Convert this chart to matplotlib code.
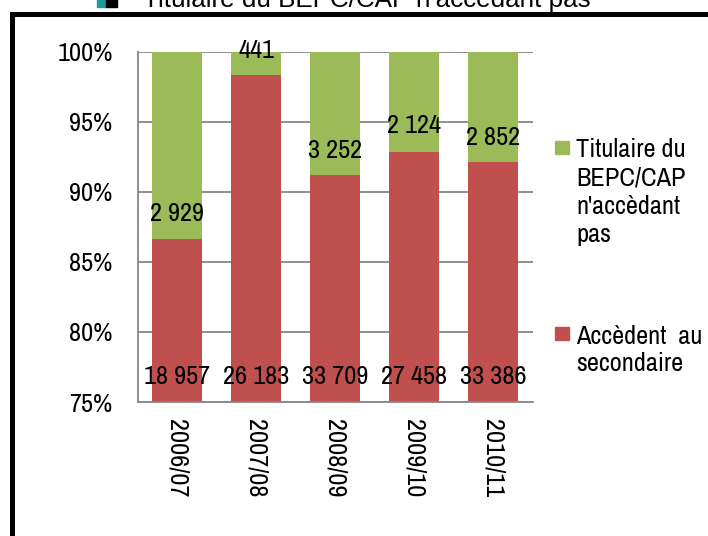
import matplotlib
matplotlib.use("Agg")
import matplotlib.pyplot as plt
from matplotlib.patches import Rectangle

NARROW = ['Liberation Sans Narrow', 'Archivo Narrow', 'Roboto Condensed', 'Liberation Sans', 'DejaVu Sans']
plt.rcParams['font.family'] = NARROW

# ---- data ----
years = ['2006/07', '2007/08', '2008/09', '2009/10', '2010/11']
accedent = [18957, 26183, 33709, 27458, 33386]          # Accèdent au secondaire
non_accedant = [2929, 441, 3252, 2124, 2852]            # Titulaire du BEPC/CAP n'accèdant pas
yticks = [75, 80, 85, 90, 95, 100]

# label positions (layout, in % units)
red_label_y = [76.8, 76.8, 76.8, 76.8, 76.8]
green_label_y = [88.45, 100.05, 92.94, 94.7, 93.9]

GREEN = '#9BBB59'
RED = '#C0504D'
GRID = '#878787'
FS = 19

W, H = 708, 536
fig = plt.figure(figsize=(W / 100, H / 100), dpi=100)

def fx(x):
    return x / W

def fy(y):
    return 1 - y / H

ax = fig.add_axes([fx(137.7), fy(402), fx(532.7) - fx(137.7), fy(51.7) - fy(402)])

tot = [a + b for a, b in zip(accedent, non_accedant)]
red_pct = [a / t * 100 for a, t in zip(accedent, tot)]
green_pct = [b / t * 100 for b, t in zip(non_accedant, tot)]
xs = list(range(len(years)))

ax.bar(xs, red_pct, width=0.64, color=RED, zorder=2)
ax.bar(xs, green_pct, bottom=red_pct, width=0.64, color=GREEN, zorder=2)

ax.set_xlim(-0.5, len(years) - 0.5)
ax.set_ylim(75, 100)
ax.set_yticks(yticks)
ax.set_yticklabels([f'{v}%' for v in yticks], fontsize=FS)
ax.yaxis.grid(True, color=GRID, lw=1.3)
ax.set_axisbelow(True)
ax.tick_params(axis='y', length=0, pad=18)
ax.set_xticks(xs)
ax.set_xticklabels(years, rotation=270, fontsize=FS, va='top', ha='center')
ax.tick_params(axis='x', length=0, pad=12)
for s in ['top', 'right']:
    ax.spines[s].set_visible(False)
for s in ['left', 'bottom']:
    ax.spines[s].set_color(GRID)
    ax.spines[s].set_linewidth(1.3)

def fmt(n):
    return f'{n:,}'.replace(',', ' ')

for x, v, y in zip(xs, accedent, red_label_y):
    ax.text(x, y, fmt(v), ha='center', va='center', fontsize=FS, zorder=3, clip_on=False)
for x, v, y in zip(xs, non_accedant, green_label_y):
    ax.text(x, y, fmt(v), ha='center', va='center', fontsize=FS, zorder=3, clip_on=False)

# legend (manual)
fig.add_artist(Rectangle((fx(555), fy(154)), fx(569) - fx(555), fy(141) - fy(154),
                         transform=fig.transFigure, color=GREEN))
fig.text(fx(576), fy(138), "Titulaire du\nBEPC/CAP\nn'accèdant\npas", fontsize=FS,
         ha='left', va='top', linespacing=1.28)
fig.add_artist(Rectangle((fx(555), fy(340)), fx(569) - fx(555), fy(327.5) - fy(340),
                         transform=fig.transFigure, color=RED))
fig.text(fx(576), fy(325), "Accèdent  au\nsecondaire", fontsize=FS,
         ha='left', va='top', linespacing=1.22)

# outer border (cropped frame)
fig.add_artist(Rectangle((fx(11.5), fy(700)), fx(1000), fy(14) - fy(700),
                         transform=fig.transFigure, fill=False, ec='black', lw=3.6))

# cut-off legend at the very top
fig.add_artist(Rectangle((fx(96.7), fy(6.7)), fx(106) - fx(96.7), fy(-5) - fy(6.7),
                         transform=fig.transFigure, color='#1B9B9B'))
fig.add_artist(Rectangle((fx(106), fy(6.7)), fx(116.7) - fx(106), fy(-5) - fy(6.7),
                         transform=fig.transFigure, color='black'))
fig.text(fx(143), fy(7), "Titulaire du BEPC/CAP n'accèdant pas", fontsize=18.7,
         ha='left', va='baseline', family=['Liberation Sans', 'DejaVu Sans'])

fig.savefig('out.png', dpi=100)
